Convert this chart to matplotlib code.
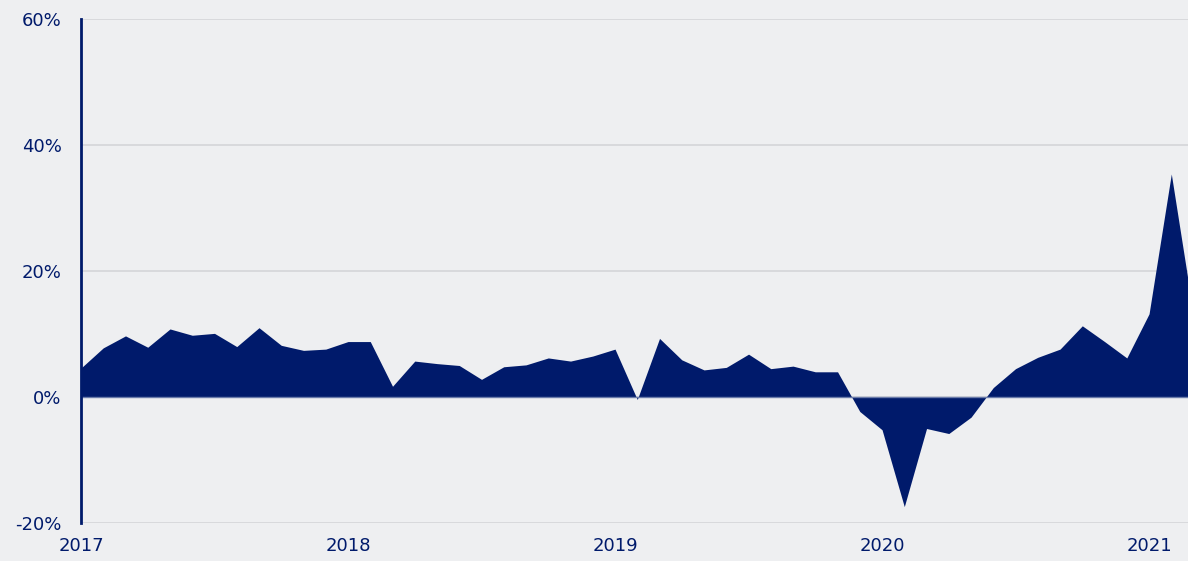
import matplotlib.pyplot as plt

# monthly growth, Jan 2017 .. Mar 2021 (%)
months = list(range(51))
growth = [4.6, 7.8, 9.7, 7.9, 10.8, 9.8, 10.1, 8.0, 11.0, 8.2, 7.4, 7.6,
          8.8, 8.8, 1.7, 5.7, 5.3, 5.0, 2.8, 4.8, 5.1, 6.2, 5.7, 6.5,
          7.6, -0.4, 9.3, 5.9, 4.3, 4.7, 6.8, 4.5, 4.9, 4.0, 4.0, -2.3,
          -5.2, -17.4, -5.0, -5.8, -3.2, 1.5, 4.5, 6.3, 7.6, 11.3, 8.8, 6.2,
          13.2, 35.4, 13.0]
year_ticks = [0, 12, 24, 36, 48]
year_labels = ["2017", "2018", "2019", "2020", "2021"]
y_ticks = [-20, 0, 20, 40, 60]
y_labels = ["-20%", "0%", "20%", "40%", "60%"]

navy = "#001A6B"
bg = "#EEEFF1"

fig = plt.figure(figsize=(11.88, 5.61), dpi=100, facecolor=bg)
ax = fig.add_axes([81 / 1188, 38 / 561, 1 - 81 / 1188, 504 / 561], facecolor=bg)

ax.fill_between(months, growth, 0, color=navy, lw=0)
ax.axhline(0, color="#6A7BAA", lw=1, zorder=3)

ax.set_xlim(0, 49.75)
ax.set_ylim(-20, 60)
ax.set_yticks(y_ticks)
ax.set_yticklabels(y_labels)
ax.set_xticks(year_ticks)
ax.set_xticklabels(year_labels)
ax.grid(axis="y", color="#D6D7DA", lw=1.3)
ax.set_axisbelow(True)

for s in ["top", "right", "bottom"]:
    ax.spines[s].set_visible(False)
ax.spines["left"].set_color(navy)
ax.spines["left"].set_linewidth(2)
ax.spines["left"].set_zorder(4)

ax.tick_params(axis="both", length=0, labelcolor=navy, labelsize=13)
ax.tick_params(axis="y", pad=14)
ax.tick_params(axis="x", pad=10)

fig.savefig("out.png", dpi=100, facecolor=bg)
